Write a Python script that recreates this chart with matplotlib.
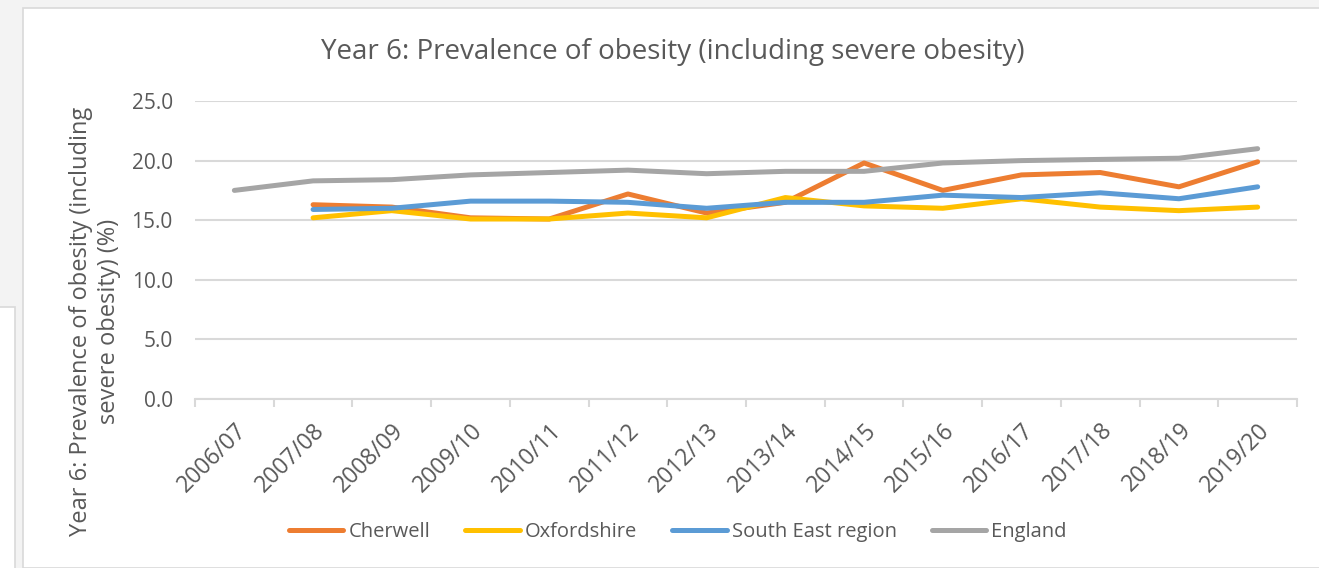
import matplotlib
matplotlib.use("Agg")
import matplotlib.pyplot as plt
from matplotlib.patches import Rectangle

plt.rcParams['font.family'] = ['Open Sans', 'DejaVu Sans']

years = ['2006/07', '2007/08', '2008/09', '2009/10', '2010/11', '2011/12', '2012/13',
         '2013/14', '2014/15', '2015/16', '2016/17', '2017/18', '2018/19', '2019/20']
cherwell = [None, 16.3, 16.1, 15.2, 15.1, 17.2, 15.6, 16.5, 19.8, 17.5, 18.8, 19.0, 17.8, 19.9]
oxfordshire = [None, 15.2, 15.8, 15.1, 15.1, 15.6, 15.2, 16.9, 16.2, 16.0, 16.8, 16.1, 15.8, 16.1]
south_east = [None, 15.9, 16.0, 16.6, 16.6, 16.5, 16.0, 16.5, 16.5, 17.1, 16.9, 17.3, 16.8, 17.8]
england = [17.5, 18.3, 18.4, 18.8, 19.0, 19.2, 18.9, 19.1, 19.1, 19.8, 20.0, 20.1, 20.2, 21.0]

series = [('Cherwell', cherwell, '#ED7D31'),
          ('Oxfordshire', oxfordshire, '#FFC000'),
          ('South East region', south_east, '#5B9BD5'),
          ('England', england, '#A5A5A5')]

W, H = 1319, 568
fig = plt.figure(figsize=(W / 100, H / 100), dpi=100, facecolor='#F3F3F3')

# chart frame and the small panel on the left
fig.patches.append(Rectangle((23 / W, 0), 1.0, 1 - 8 / H, transform=fig.transFigure,
                             facecolor='white', edgecolor='#D9D9D9', lw=1.2, zorder=-5))
fig.patches.append(Rectangle((-0.01, -0.01), 14.5 / W + 0.01, 1 - 307 / H + 0.01,
                             transform=fig.transFigure, facecolor='white',
                             edgecolor='#D9D9D9', lw=1.2, zorder=-5))

ax = fig.add_axes([195 / W, 1 - 399 / H, (1297 - 195) / W, (399 - 101) / H])
ax.set_facecolor('none')
ax.set_zorder(2)

x = list(range(len(years)))
for name, vals, col in series:
    xs = [i for i, v in zip(x, vals) if v is not None]
    ys = [v for v in vals if v is not None]
    ax.plot(xs, ys, color=col, lw=3.6, solid_capstyle='round', solid_joinstyle='round',
            label=name)

ax.set_xlim(-0.5, len(years) - 0.5)
ax.set_ylim(0, 25)
ax.set_yticks([0, 5, 10, 15, 20, 25])
ax.set_yticklabels(['%.1f' % v for v in [0, 5, 10, 15, 20, 25]])
ax.yaxis.grid(True, color='#D9D9D9', lw=1.5)
ax.set_axisbelow(True)
ax.tick_params(axis='y', length=0, pad=16, labelsize=15, labelcolor='#595959')

ax.set_xticks(x)
ax.set_xticklabels(years, rotation=45, ha='right', rotation_mode='anchor')
ax.tick_params(axis='x', length=0, pad=14, labelsize=16.5, labelcolor='#595959')
ax.set_xticks([i - 0.5 for i in range(len(years) + 1)], minor=True)
ax.tick_params(axis='x', which='minor', length=6, width=1.5, color='#D9D9D9')

for s in ['top', 'right', 'left']:
    ax.spines[s].set_visible(False)
ax.spines['bottom'].set_color('#D9D9D9')
ax.spines['bottom'].set_linewidth(1.5)

ax.set_ylabel('Year 6: Prevalence of obesity (including\nsevere obesity) (%)',
              fontsize=17, color='#595959')
ax.yaxis.set_label_coords((121 - 195) / 1102, (399 - 321) / 298)

fig.text(673 / W, 1 - 52 / H, 'Year 6: Prevalence of obesity (including severe obesity)',
         ha='center', va='center', fontsize=20, color='#595959')

fig.legend(loc='center', bbox_to_anchor=(678 / W, 1 - 532 / H), ncol=4, frameon=False,
           fontsize=14.5, labelcolor='#595959', handlelength=2.7, handletextpad=0.25,
           columnspacing=1.75)

fig.savefig('out.png', dpi=100, facecolor=fig.get_facecolor())
